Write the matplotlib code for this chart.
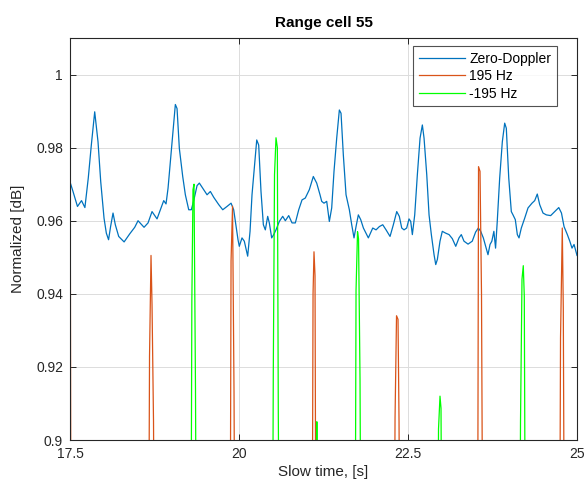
import matplotlib
matplotlib.use("Agg")
import matplotlib.pyplot as plt

plt.rcParams['font.family'] = ['Liberation Sans', 'DejaVu Sans']

# Zero-Doppler trace (slow time [s], normalized value)
zero_t = [17.500, 17.544, 17.610, 17.670, 17.720, 17.770, 17.815, 17.865, 17.914, 17.954,
          18.003, 18.037, 18.070, 18.100, 18.136, 18.170, 18.220, 18.300, 18.383, 18.457,
          18.506, 18.595, 18.654, 18.713, 18.787, 18.836, 18.886, 18.920, 18.950, 18.984,
          19.019, 19.058, 19.083, 19.117, 19.167, 19.206, 19.256, 19.294, 19.330, 19.379,
          19.413, 19.478, 19.527, 19.576, 19.626, 19.700, 19.759, 19.822, 19.882, 19.921,
          19.956, 19.985, 20.004, 20.044, 20.078, 20.128, 20.163, 20.192, 20.226, 20.262,
          20.291, 20.325, 20.360, 20.389, 20.424, 20.448, 20.483, 20.513, 20.547, 20.596,
          20.646, 20.685, 20.735, 20.784, 20.833, 20.883, 20.932, 20.980, 21.040, 21.099,
          21.149, 21.198, 21.223, 21.257, 21.297, 21.336, 21.371, 21.405, 21.445, 21.484,
          21.509, 21.543, 21.583, 21.632, 21.667, 21.701, 21.731, 21.765, 21.800, 21.840,
          21.913, 21.978, 22.027, 22.076, 22.126, 22.175, 22.234, 22.283, 22.333, 22.371,
          22.407, 22.441, 22.480, 22.515, 22.540, 22.564, 22.599, 22.638, 22.678, 22.712,
          22.737, 22.777, 22.811, 22.845, 22.885, 22.910, 22.934, 22.973, 23.007, 23.057,
          23.107, 23.155, 23.206, 23.254, 23.288, 23.328, 23.388, 23.450, 23.500, 23.540,
          23.575, 23.614, 23.649, 23.683, 23.713, 23.740, 23.770, 23.795, 23.820, 23.856,
          23.895, 23.930, 23.954, 23.990, 24.028, 24.053, 24.087, 24.117, 24.142, 24.176,
          24.226, 24.275, 24.334, 24.374, 24.412, 24.448, 24.497, 24.546, 24.610, 24.670,
          24.730, 24.770, 24.808, 24.857, 24.893, 24.926, 24.956, 25.000]
zero_v = [0.9706, 0.9680, 0.9639, 0.9655, 0.9636, 0.9717, 0.9807, 0.9898, 0.9816, 0.9707,
          0.9607, 0.9566, 0.9548, 0.9584, 0.9621, 0.9589, 0.9557, 0.9542, 0.9564, 0.9582,
          0.9600, 0.9582, 0.9594, 0.9625, 0.9605, 0.9630, 0.9655, 0.9646, 0.9689, 0.9762,
          0.9835, 0.9918, 0.9907, 0.9798, 0.9721, 0.9671, 0.9630, 0.9630, 0.9655, 0.9696,
          0.9703, 0.9685, 0.9671, 0.9680, 0.9664, 0.9644, 0.9630, 0.9639, 0.9648, 0.9630,
          0.9584, 0.9548, 0.9530, 0.9553, 0.9544, 0.9503, 0.9571, 0.9671, 0.9744, 0.9821,
          0.9807, 0.9680, 0.9589, 0.9575, 0.9612, 0.9594, 0.9553, 0.9562, 0.9575, 0.9598,
          0.9612, 0.9600, 0.9614, 0.9594, 0.9594, 0.9630, 0.9657, 0.9662, 0.9685, 0.9721,
          0.9703, 0.9671, 0.9653, 0.9648, 0.9653, 0.9598, 0.9635, 0.9735, 0.9826, 0.9903,
          0.9894, 0.9780, 0.9671, 0.9630, 0.9589, 0.9553, 0.9584, 0.9616, 0.9603, 0.9580,
          0.9553, 0.9580, 0.9575, 0.9584, 0.9589, 0.9575, 0.9557, 0.9589, 0.9625, 0.9612,
          0.9580, 0.9575, 0.9580, 0.9605, 0.9598, 0.9562, 0.9616, 0.9726, 0.9826, 0.9862,
          0.9826, 0.9726, 0.9616, 0.9562, 0.9507, 0.9480, 0.9494, 0.9544, 0.9571, 0.9566,
          0.9562, 0.9551, 0.9530, 0.9553, 0.9562, 0.9544, 0.9536, 0.9544, 0.9569, 0.9580,
          0.9571, 0.9553, 0.9530, 0.9507, 0.9535, 0.9544, 0.9571, 0.9525, 0.9598, 0.9717,
          0.9816, 0.9867, 0.9853, 0.9717, 0.9625, 0.9616, 0.9603, 0.9562, 0.9553, 0.9580,
          0.9607, 0.9635, 0.9648, 0.9655, 0.9673, 0.9644, 0.9621, 0.9616, 0.9614, 0.9625,
          0.9636, 0.9621, 0.9584, 0.9562, 0.9544, 0.9525, 0.9535, 0.9505]

# 195 Hz trace (below 0.9 between the spikes)
pos_t = [17.500, 17.505, 17.515,
         18.661, 18.676, 18.698, 18.713, 18.735, 18.750,
         19.867, 19.882, 19.904, 19.926, 19.941,
         21.080, 21.095, 21.109, 21.124, 21.139,
         22.293, 22.308, 22.330, 22.352, 22.367, 22.382,
         23.528, 23.543, 23.565, 23.587, 23.609,
         24.741, 24.756, 24.782, 24.797, 24.815,
         25.000]
pos_v = [0.957, 0.949, 0.850,
         0.850, 0.923, 0.9505, 0.937, 0.905, 0.850,
         0.850, 0.949, 0.964, 0.913, 0.850,
         0.850, 0.940, 0.9515, 0.945, 0.850,
         0.850, 0.906, 0.934, 0.933, 0.905, 0.850,
         0.850, 0.9748, 0.9735, 0.940, 0.850,
         0.850, 0.928, 0.958, 0.936, 0.850,
         0.850]

# -195 Hz trace
neg_t = [17.500,
         19.287, 19.302, 19.319, 19.334, 19.356, 19.371,
         20.493, 20.507, 20.525, 20.547, 20.567, 20.581, 20.599,
         21.139, 21.151, 21.163,
         21.716, 21.731, 21.753, 21.768, 21.790, 21.805,
         22.936, 22.951, 22.973, 22.988, 23.003,
         24.149, 24.164, 24.186, 24.205, 24.220, 24.238,
         25.000]
neg_v = [0.850,
         0.850, 0.938, 0.9685, 0.970, 0.914, 0.850,
         0.850, 0.919, 0.9726, 0.9827, 0.980, 0.907, 0.850,
         0.850, 0.905, 0.850,
         0.850, 0.941, 0.957, 0.955, 0.9166, 0.850,
         0.850, 0.903, 0.912, 0.9087, 0.850,
         0.850, 0.905, 0.944, 0.9477, 0.9393, 0.850,
         0.850]

x_ticks = [17.5, 20, 22.5, 25]
x_labels = ['17.5', '20', '22.5', '25']
y_ticks = [0.9, 0.92, 0.94, 0.96, 0.98, 1.0]
y_labels = ['0.9', '0.92', '0.94', '0.96', '0.98', '1']

fig = plt.figure(figsize=(5.87, 4.87), dpi=100)
ax = fig.add_axes([0.1193, 0.0965, 0.8637, 0.8255])

ax.plot(zero_t, zero_v, color='#0072BD', linewidth=0.9, label='Zero-Doppler')
ax.plot(pos_t, pos_v, color='#D95319', linewidth=0.9, label='195 Hz')
ax.plot(neg_t, neg_v, color='#00FF00', linewidth=0.9, label='-195 Hz')

ax.set_xlim(17.5, 25)
ax.set_ylim(0.9, 1.01)
ax.set_xticks(x_ticks)
ax.set_xticklabels(x_labels)
ax.set_yticks(y_ticks)
ax.set_yticklabels(y_labels)

ax.grid(True, color='#DCDCDC', linewidth=0.7)
ax.set_axisbelow(True)
ax.tick_params(direction='in', top=True, right=True, length=4, width=0.7,
               colors='#262626', labelsize=10, pad=5)
for s in ax.spines.values():
    s.set_color('#262626')
    s.set_linewidth(0.8)

ax.set_title('Range cell 55', fontsize=11, fontweight='bold', color='black', pad=8)
ax.set_xlabel('Slow time, [s]', fontsize=11, color='#262626', labelpad=3)
ax.set_ylabel('Normalized [dB]', fontsize=11, color='#262626', labelpad=8)

leg = ax.legend(loc='upper right', bbox_to_anchor=(0.9606, 0.980), borderaxespad=0,
                fontsize=10, frameon=True, fancybox=False, handlelength=3.3,
                handletextpad=0.35, labelspacing=0.25, borderpad=0.4)
leg.get_frame().set_edgecolor('#262626')
leg.get_frame().set_linewidth(0.8)

fig.savefig('out.png', dpi=100)
